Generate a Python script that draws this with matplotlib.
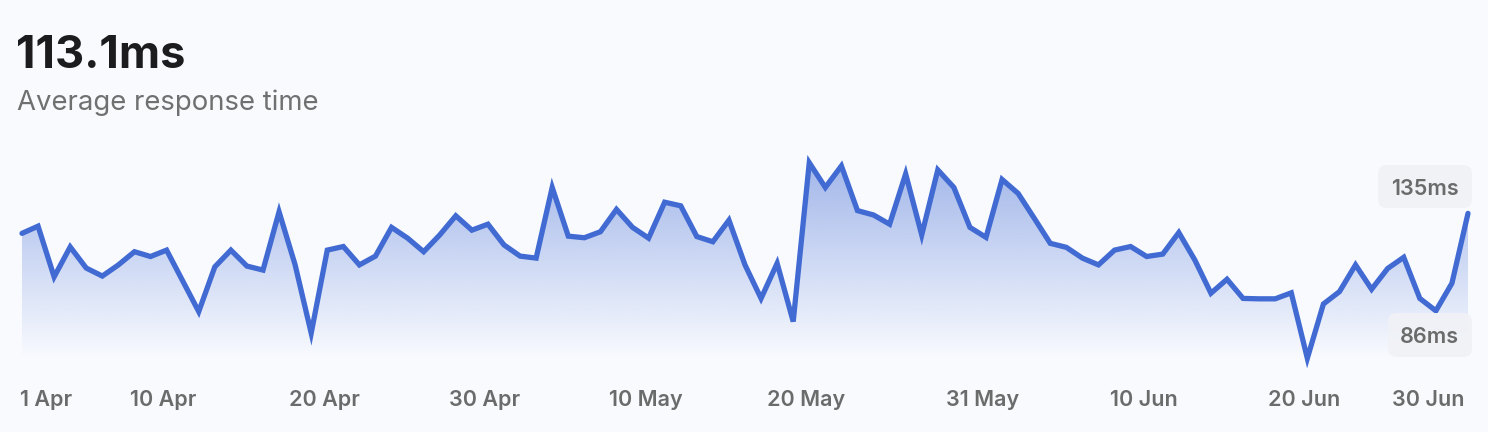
import numpy as np
import matplotlib
matplotlib.use("Agg")
import matplotlib.pyplot as plt
from matplotlib.patches import FancyBboxPatch, PathPatch
from matplotlib.transforms import blended_transform_factory

# ---------------- data ----------------
response_ms = [
    117.3, 119.1, 106.4, 113.9, 108.6, 106.6, 109.4, 112.7, 111.5, 113.1,
    105.4, 97.7, 108.9, 113.1, 109.1, 108.1, 122.7, 109.4, 92.3, 113.1,
    114.0, 109.4, 111.6, 118.8, 116.1, 112.7, 116.9, 121.7, 118.1, 119.6,
    114.4, 111.6, 111.1, 128.8, 116.6, 116.2, 117.7, 123.3, 118.8, 116.1,
    125.1, 124.2, 116.5, 115.2, 120.6, 109.4, 101.0, 109.8, 95.2, 135.0,
    128.8, 134.2, 123.0, 121.9, 119.6, 132.2, 116.9, 133.2, 128.8, 118.8,
    116.3, 130.8, 127.3, 121.1, 114.8, 113.8, 111.1, 109.4, 113.1, 114.0,
    111.5, 112.1, 117.5, 110.6, 102.3, 105.8, 101.0, 100.9, 100.9, 102.4,
    86.0, 99.6, 102.7, 109.4, 103.3, 108.5, 111.3, 101.0, 97.9, 104.8,
    122.3,
]
tick_days = [0, 9, 19, 29, 39, 49, 60, 70, 80, 90]
tick_labels = ["1 Apr", "10 Apr", "20 Apr", "30 Apr", "10 May",
               "20 May", "31 May", "10 Jun", "20 Jun", "30 Jun"]
headline = "113.1ms"
subtitle = "Average response time"

# ---------------- style ----------------
W, H = 1488, 432
BG = "#F8FAFE"
LINE = "#416AD2"
GREY = "#6B6B6B"
plt.rcParams["font.family"] = ["Inter", "DejaVu Sans"]

fig = plt.figure(figsize=(W / 100, H / 100), dpi=100, facecolor=BG)

x = np.arange(len(response_ms))
y = np.array(response_ms)
vmax, vmin = y.max(), y.min()

# axes placement (pixels): x 22..1468, y 150..370 from top
ax_left, ax_right, ax_top, ax_bot = 22, 1468, 150, 370
ax = fig.add_axes([ax_left / W, 1 - ax_bot / H, (ax_right - ax_left) / W, (ax_bot - ax_top) / H])
ax.set_facecolor("none")
ax.set_xlim(x[0], x[-1])
scale = (vmax - vmin) / (358.3 - 162.7)
ax.set_ylim(vmin - (ax_bot - 358.3) * scale, vmax + (162.7 - ax_top) * scale)
ax.axis("off")
px_per_day = (ax_right - ax_left) / (x[-1] - x[0])

# gradient fill under the line
base = vmin
poly = ax.fill_between(x, y, base, color="none", lw=0)
path = poly.get_paths()[0]
patch = PathPatch(path, facecolor="none", edgecolor="none", transform=ax.transData)
ax.add_patch(patch)
n = 256
rgb = np.array(matplotlib.colors.to_rgb(LINE))
alphas = np.linspace(0.0, 0.47, n)
img = np.zeros((n, 2, 4))
img[..., :3] = rgb
img[..., 3] = alphas[:, None]
im = ax.imshow(img, extent=[x[0], x[-1], base, vmax], origin="lower",
               aspect="auto", zorder=1, interpolation="bilinear")
im.set_clip_path(patch)

ax.plot(x, y, color=LINE, lw=3.8, solid_joinstyle="miter", solid_capstyle="round",
        zorder=3, clip_on=False)

# x tick labels
tr = blended_transform_factory(ax.transData, fig.transFigure)
for i, (d, lab) in enumerate(zip(tick_days, tick_labels)):
    ha = "left" if i == 0 else ("right" if i == len(tick_days) - 1 else "center")
    if i == 0:
        xx = d - 2 / px_per_day
    elif i == len(tick_days) - 1:
        xx = d - 4 / px_per_day
    else:
        xx = d - 3 / px_per_day
    fig.text(xx, 1 - 406 / H, lab, transform=tr, ha=ha, va="baseline",
             fontsize=15.5, fontweight="semibold", color=GREY)

# headline and subtitle
fig.text(16 / W, 1 - 68 / H, headline, ha="left", va="baseline",
         fontsize=32.5, fontweight="bold", color="#1C1C1E")
fig.text(17 / W, 1 - 110 / H, subtitle, ha="left", va="baseline",
         fontsize=19.8, color="#707070")

# max / min badges
def badge(x0, y0, x1, y1, text):
    p = FancyBboxPatch((x0 / W, 1 - y1 / H), (x1 - x0) / W, (y1 - y0) / H,
                       boxstyle="round,pad=0,rounding_size=0.006",
                       transform=fig.transFigure, facecolor="#F0F2F6",
                       edgecolor="none", alpha=0.95, zorder=5, mutation_aspect=W / H)
    fig.add_artist(p)
    fig.text(1459 / W, 1 - ((y0 + y1) / 2) / H, text, ha="right", va="center_baseline",
             fontsize=15.5, fontweight="semibold", color=GREY, zorder=6)

badge(1378, 165, 1472, 208, f"{vmax:.0f}ms")
badge(1388, 313, 1472, 357, f"{vmin:.0f}ms")

fig.savefig("out.png", dpi=100, facecolor=BG)
